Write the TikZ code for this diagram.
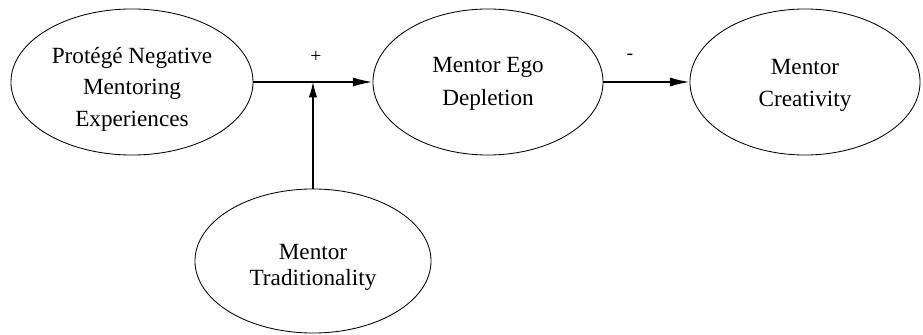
\documentclass[tikz,border=0pt]{standalone}
\usepackage{fontspec}
\setmainfont{Liberation Serif}
\usepackage{tikz}
\usetikzlibrary{positioning}
\usetikzlibrary{arrows.meta}
\usetikzlibrary{shapes.geometric}

\begin{document}
\begin{tikzpicture}[x=0.025cm, y=-0.025cm, >={Latex[length=14pt,width=6.5pt]},
var/.style={ellipse, draw, line width=0.6pt, inner sep=0pt, align=center,
  font=\rmfamily\fontsize{16.5}{#1}\selectfont},
var/.default=22.3pt,
link/.style={->, line width=1.2pt},
sign/.style={font=\rmfamily\fontsize{14}{16}\selectfont}]
\useasboundingbox (0,0) rectangle (923,335);

% variables
\node [var=22.3pt, minimum width=6.05cm, minimum height=3.65cm] (neg) at (132,82) {\rule{0pt}{22pt}Protégé Negative\\Mentoring\\Experiences};
\node [var=23.4pt, minimum width=5.75cm, minimum height=3.65cm] (dep) at (488,82) {\rule{0pt}{14pt}Mentor Ego\\Depletion};
\node [var=22.7pt, minimum width=5.75cm, minimum height=3.65cm] (cre) at (805,82) {\rule{0pt}{16pt}Mentor\\Creativity};
\node [var=18.6pt, minimum width=5.9cm, minimum height=3.6cm] (trad) at (313,261) {\rule{0pt}{20pt}Mentor\\Traditionality};

% paths
\coordinate (mod) at (313,82);
\draw [link] (neg.east) -- (dep.west);
\draw [link] (dep.east) -- (cre.west);
\draw [-{Latex[length=11pt,width=6pt]}, line width=0.8pt] (trad.north) -- (mod);

% signs
\node [sign] (plus) at (316,57) {+};
\node [sign] (minus) at (630,57) {-};

\end{tikzpicture}
\end{document}
